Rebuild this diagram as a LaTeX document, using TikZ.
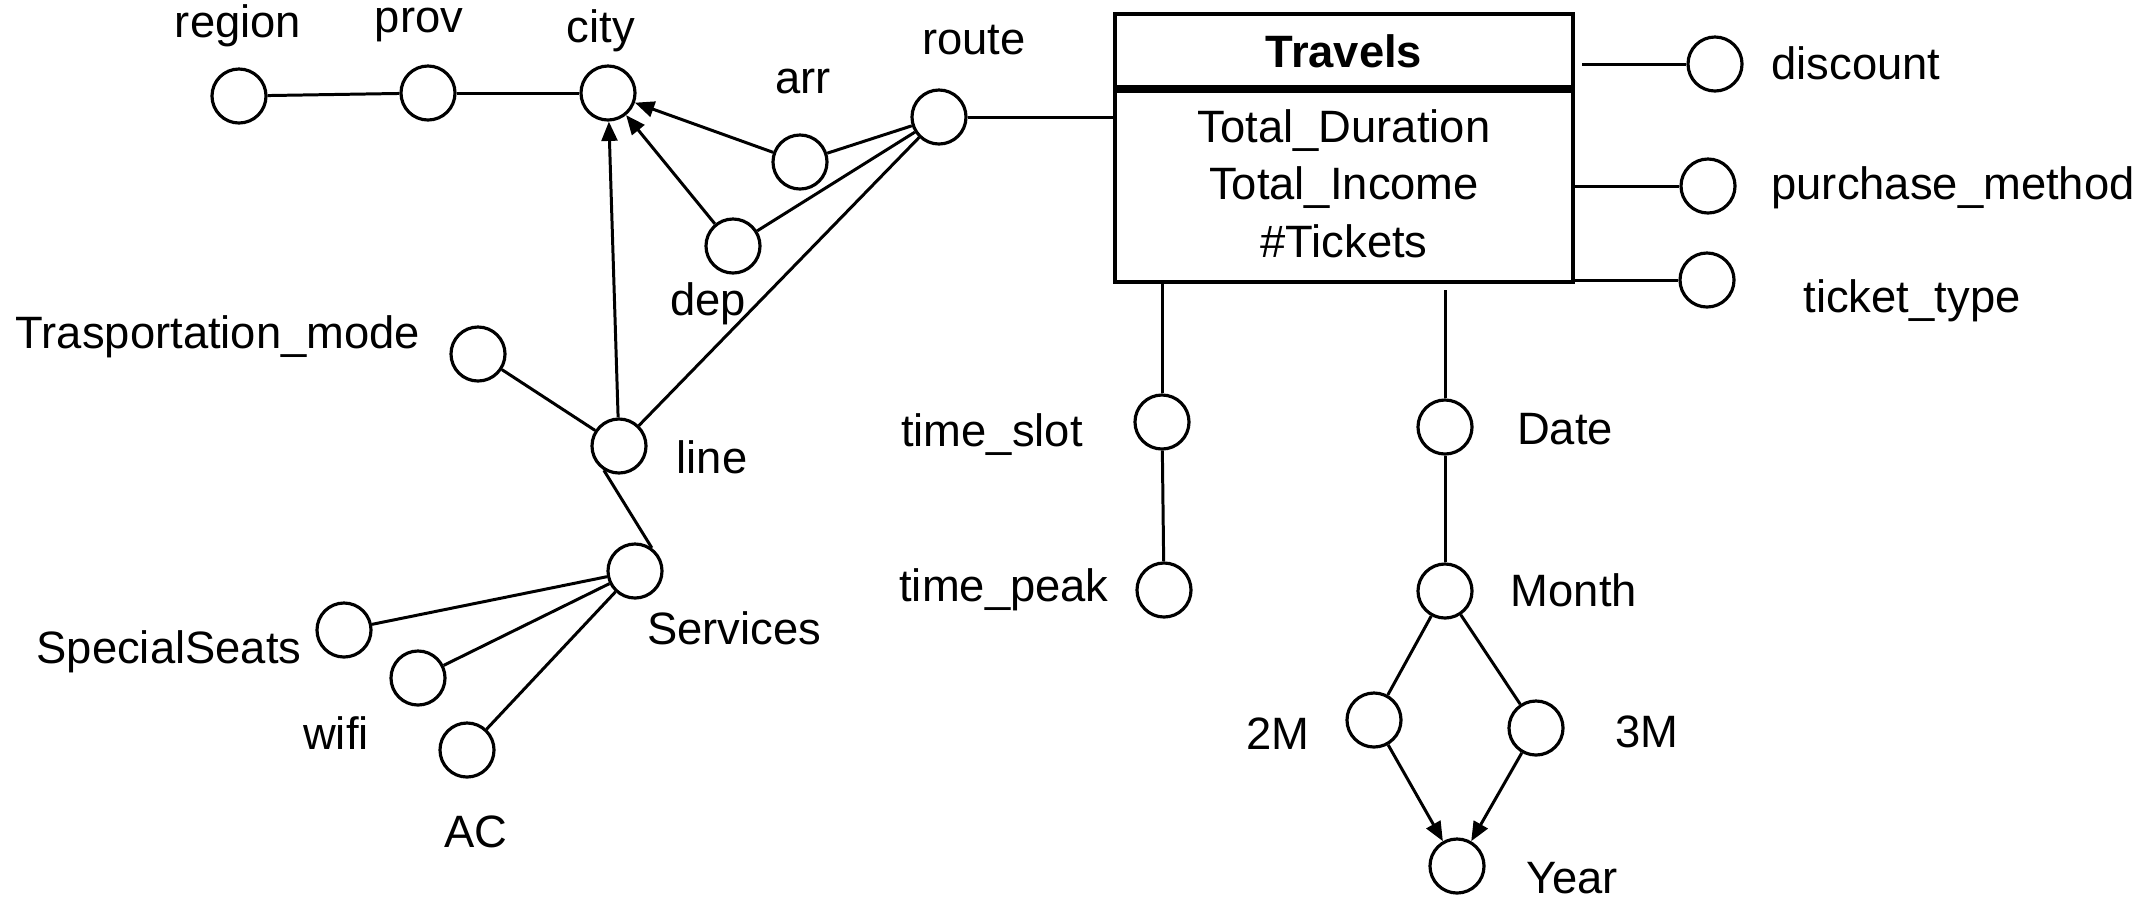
\documentclass[tikz,border=0pt]{standalone}
\usepackage{fontspec}
\setmainfont{Liberation Sans}
\usetikzlibrary{arrows.meta}
\begin{document}
\begin{tikzpicture}[x=0.01cm,y=-0.01cm,
  attr/.style={circle,draw,line width=0.9pt,minimum size=0.54cm,inner sep=0pt},
  lbl/.style={anchor=base,inner sep=0pt,font=\fontsize{12.9}{15}\selectfont},
  conn/.style={line width=0.85pt},
  tip/.style={conn,-{Triangle[length=5.5pt,width=4.5pt]}},
  entity/.style={draw,line width=1pt,minimum width=4.58cm,minimum height=2.68cm,inner sep=0pt}]
\useasboundingbox (0,0) rectangle (2143,899);
% attribute circles
\node[attr] (region) at (239,96) {};
\node[attr] (prov) at (428,93) {};
\node[attr] (city) at (608,93) {};
\node[attr] (arr) at (800,162) {};
\node[attr] (route) at (939,117) {};
\node[attr] (dep) at (733,246) {};
\node[attr] (tmode) at (478,354) {};
\node[attr] (line) at (619,446) {};
\node[attr] (services) at (635,571) {};
\node[attr] (seats) at (344,630) {};
\node[attr] (wifi) at (418,678) {};
\node[attr] (ac) at (467,750) {};
\node[attr] (discount) at (1715,64) {};
\node[attr] (purchase) at (1708,186) {};
\node[attr] (ticket) at (1707,280) {};
\node[attr] (tslot) at (1162,422) {};
\node[attr] (tpeak) at (1164,590) {};
\node[attr] (date) at (1445,427) {};
\node[attr] (month) at (1445,591) {};
\node[attr] (twom) at (1374,720) {};
\node[attr] (threem) at (1536,728) {};
\node[attr] (year) at (1457,866) {};
% entity
\node[entity] (travels) at (1344,148) {};
\draw[line width=2pt] (travels.west |- 0,89) -- (travels.east |- 0,89);
\node[lbl,font=\fontsize{12.9}{15}\selectfont\bfseries] (travels-t) at (1344,67) {Travels};
\node[lbl] (td) at (1344,142) {Total\_Duration};
\node[lbl] (ti) at (1344,199) {Total\_Income};
\node[lbl] (tk) at (1344,257) {\#Tickets};
% labels
\node[lbl] (region-l) at (238,37) {region};
\node[lbl] (prov-l) at (419,32) {prov};
\node[lbl] (city-l) at (601,42) {city};
\node[lbl] (arr-l) at (803,93) {arr};
\node[lbl] (route-l) at (974,54) {route};
\node[lbl] (dep-l) at (708,315) {dep};
\node[lbl] (tmode-l) at (218,348) {Trasportation\_mode};
\node[lbl] (line-l) at (712,473) {line};
\node[lbl] (services-l) at (734,644) {Services};
\node[lbl] (seats-l) at (169,663) {SpecialSeats};
\node[lbl] (wifi-l) at (336,749) {wifi};
\node[lbl] (ac-l) at (476,847) {AC};
\node[lbl] (discount-l) at (1856,79) {discount};
\node[lbl] (purchase-l) at (1953,199) {purchase\_method};
\node[lbl] (ticket-l) at (1912,312) {ticket\_type};
\node[lbl] (tslot-l) at (992,446) {time\_slot};
\node[lbl] (tpeak-l) at (1004,601) {time\_peak};
\node[lbl] (date-l) at (1565,444) {Date};
\node[lbl] (month-l) at (1574,606) {Month};
\node[lbl] (twom-l) at (1278,749) {2M};
\node[lbl] (threem-l) at (1647,747) {3M};
\node[lbl] (year-l) at (1572,893) {Year};
% connectors
\draw[conn] (region) -- (prov);
\draw[conn] (prov) -- (city);
\draw[tip] (arr) -- (city);
\draw[tip] (dep) -- (city);
\draw[tip] (line) -- (city);
\draw[conn] (arr) -- (route);
\draw[conn] (dep) -- (route);
\draw[conn] (line) -- (route);
\draw[conn] (route.east) -- (route.east -| travels.west);
\draw[conn] (tmode) -- (line);
\draw[conn] (line.238) -- (services.54);
\draw[conn] (services) -- (seats);
\draw[conn] (services) -- (wifi);
\draw[conn] (services) -- (ac);
\draw[conn] (discount.west) -- ([xshift=0.07cm]discount.west -| travels.east);
\draw[conn] (purchase.west) -- (purchase.west -| travels.east);
\draw[conn] (ticket.west) -- (ticket.west -| travels.east);
\draw[conn] (tslot.north) -- (tslot.north |- travels.south);
\draw[conn] (tslot) -- (tpeak);
\draw[conn] (date.north) -- ([yshift=-0.06cm]date.north |- travels.south);
\draw[conn] (date) -- (month);
\draw[conn] (month) -- (twom);
\draw[conn] (month) -- (threem);
\draw[tip] (twom) -- (year);
\draw[tip] (threem) -- (year);
\end{tikzpicture}
\end{document}
